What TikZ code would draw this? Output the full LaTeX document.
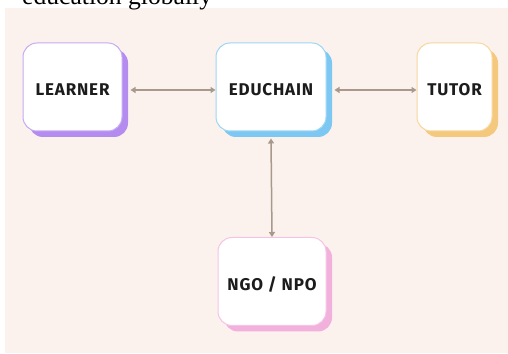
\documentclass[tikz,border=0pt]{standalone}
\usepackage{fontspec}
\setmainfont{Liberation Serif}
\newfontfamily\cardfont[LetterSpace=5]{Fira Sans}
\usetikzlibrary{arrows.meta,shadows}
\definecolor{paper}{HTML}{FBF2EE}
\definecolor{inkdark}{HTML}{1C1C1C}
\definecolor{linkgrey}{HTML}{A8998A}
\definecolor{learnercol}{HTML}{B48CF0}
\definecolor{chaincol}{HTML}{7CC8F2}
\definecolor{tutorcol}{HTML}{F4C97E}
\definecolor{ngocol}{HTML}{F2B0DC}
\tikzset{
card/.style={rounded corners=14pt, fill=white, draw=#1!75, line width=1pt,
  minimum height=88pt, inner sep=0pt, text=inkdark,
  text height=17.8pt, text depth=0pt,
  font=\cardfont\bfseries\fontsize{17}{20}\selectfont,
  general shadow={fill=#1, shadow xshift=6pt, shadow yshift=-6pt}},
link/.style={draw=linkgrey, line width=1.5pt,
  {Triangle[width=6pt,length=5pt]}-{Triangle[width=6pt,length=5pt]}}
}
\begin{document}
\begin{tikzpicture}[x=1pt,y=1pt]
\useasboundingbox (0,0) rectangle (508,353);
\clip (0,0) rectangle (508,353);
\fill[paper] (5,0) rectangle (508,345);
\node[anchor=base west, inner sep=0pt, font=\fontsize{25.6}{30}\selectfont] (caption) at (22,348) {education globally};
\def\card#1#2#3#4#5#6{
\node[card=#5, minimum width=#4] (#1) at (#2,#3) {#6};
}
\card{learner}{72.5}{266}{99pt}{learnercol}{LEARNER}
\card{educhain}{271}{266}{110pt}{chaincol}{EDUCHAIN}
\card{tutor}{454.5}{266}{75pt}{tutorcol}{TUTOR}
\card{ngo}{272}{71.5}{108pt}{ngocol}{NGO / NPO}
\draw[link, shorten <=1pt] ([xshift=7pt,yshift=-3pt]learner.east) -- ([yshift=-3pt]educhain.west);
\draw[link, shorten <=1pt] ([xshift=7pt,yshift=-3pt]educhain.east) -- ([yshift=-3pt]tutor.west);
\draw[link] ([yshift=-7pt]educhain.south) -- (ngo.north);
\end{tikzpicture}
\end{document}
